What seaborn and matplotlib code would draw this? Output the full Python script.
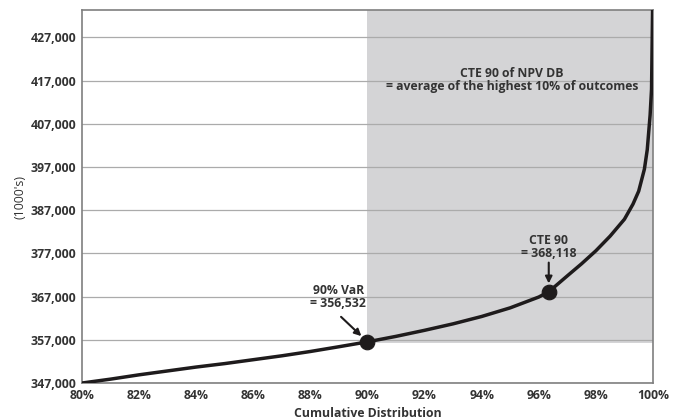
import matplotlib
matplotlib.use("Agg")
import matplotlib.pyplot as plt
import seaborn as sns
import pandas as pd

# Data
pct = [80, 81, 82, 83, 84, 85, 86, 87, 88, 89, 90, 91, 92, 93, 94, 95, 96,
       96.35, 97, 97.5, 98, 98.5, 99, 99.3, 99.5, 99.7, 99.8, 99.9, 99.95, 100]
npv = [347000, 347900, 348900, 349800, 350700, 351500, 352400, 353300, 354300,
       355400, 356532, 357800, 359200, 360700, 362400, 364400, 366900,
       368118, 371800, 374600, 377600, 381000, 384900, 388400, 391400,
       396500, 401000, 409000, 415000, 440000]

var_pct, var_value = 90, 356532
cte_pct, cte_value = 96.35, 368118
shade_bottom = 356300

x_ticks = list(range(80, 101, 2))
y_ticks = list(range(347000, 427001, 10000))

curve = pd.DataFrame({"pct": pct, "npv": npv})
points = pd.DataFrame({"pct": [var_pct, cte_pct], "npv": [var_value, cte_value]})

sns.set_theme(style="white")
plt.rcParams["font.family"] = ["Open Sans", "DejaVu Sans"]

text_color = "#333333"
line_color = "#1e1b1c"
fs = 8.8

fig = plt.figure(figsize=(6.77, 4.2), dpi=100)
ax = fig.add_axes([0.121, 0.088, 0.8435, 0.888])

y_top = 433300
ax.set_xlim(80, 100)
ax.set_ylim(347000, y_top)

# shaded CTE region
ax.fill_between([var_pct, 100], shade_bottom, y_top, color="#d4d4d6", zorder=0.1, linewidth=0)

ax.set_axisbelow(True)
ax.yaxis.grid(True, color="#ababab", linewidth=0.9)
ax.xaxis.grid(False)

sns.lineplot(data=curve, x="pct", y="npv", ax=ax, color=line_color, linewidth=2.5,
             zorder=3)
sns.scatterplot(data=points, x="pct", y="npv", ax=ax, color=line_color, s=110,
                edgecolor=line_color, zorder=4)

ax.set_xticks(x_ticks)
ax.set_xticklabels([f"{t}%" for t in x_ticks])
ax.set_yticks(y_ticks)
ax.set_yticklabels([f"{t:,}" for t in y_ticks])
ax.tick_params(axis="both", length=0, labelsize=fs, labelcolor=text_color, pad=4)
for lab in ax.get_xticklabels() + ax.get_yticklabels():
    lab.set_fontweight("bold")

for s in ax.spines.values():
    s.set_color("#7f7f7f")
    s.set_linewidth(1.2)

ax.set_xlabel("Cumulative Distribution", fontsize=fs, fontweight="bold",
              color=text_color, labelpad=4)
ax.set_ylabel("(1000's)", fontsize=fs, color=text_color, labelpad=3)

arrow = dict(arrowstyle="-|>", color=line_color, lw=1.5, shrinkA=0, shrinkB=6,
             mutation_scale=10)

# 90% VaR
ax.annotate("", xy=(var_pct, var_value), xytext=(-19, 18), textcoords="offset points",
            arrowprops=arrow)
ax.annotate(f"90% VaR\n= {var_value:,}", xy=(var_pct, var_value), xytext=(-21, 32),
            textcoords="offset points", ha="center", va="center", fontsize=fs,
            fontweight="bold", color=text_color, linespacing=1.0)

# CTE 90
ax.annotate("", xy=(cte_pct, cte_value), xytext=(0, 21), textcoords="offset points",
            arrowprops=arrow)
ax.annotate(f"CTE 90\n= {cte_value:,}", xy=(cte_pct, cte_value), xytext=(0, 32),
            textcoords="offset points", ha="center", va="center", fontsize=fs,
            fontweight="bold", color=text_color, linespacing=1.0)

ax.text(0.753, 0.812, "CTE 90 of NPV DB\n= average of the highest 10% of outcomes",
        transform=ax.transAxes, ha="center", va="center", fontsize=fs,
        fontweight="bold", color=text_color, linespacing=1.0)

fig.savefig("out.png", dpi=100)
